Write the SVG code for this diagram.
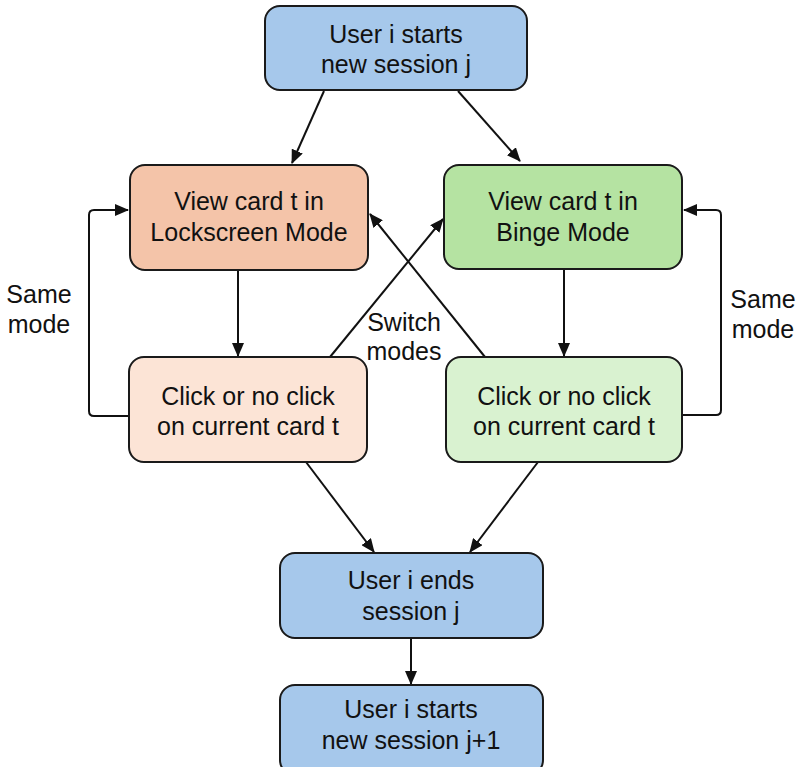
<svg xmlns="http://www.w3.org/2000/svg" width="796" height="767" viewBox="0 0 796 767">
  <defs>
    <marker id="arrow" markerUnits="userSpaceOnUse" markerWidth="14" markerHeight="12" refX="13" refY="6" orient="auto">
      <path d="M0,0 L14,6 L0,12 Z" fill="#111"/>
    </marker>
    <style>
      .box { stroke: #1a1a1a; stroke-width: 2; }
      .blue { fill: #a6c8eb; }
      .orange { fill: #f4c4a9; }
      .orange-light { fill: #fce4d6; }
      .green { fill: #b5e3a2; }
      .green-light { fill: #d9f2d0; }
      .label { font-family: "Liberation Sans", Arial, sans-serif; font-size: 25px; fill: #111; text-anchor: middle; }
      .edge { fill: none; stroke: #111; stroke-width: 2; marker-end: url(#arrow); }
    </style>
  </defs>
  <rect width="796" height="767" fill="#ffffff"/>

  <!-- connectors -->
  <g id="connectors">
    <path class="edge" d="M324,91 L292,163"/>
    <path class="edge" d="M458,91 L520,161"/>
    <path class="edge" d="M238,270 L238,356"/>
    <path class="edge" d="M564,269 L564,356"/>
    <path class="edge" d="M129,416 H94 Q89,416 89,411 V215 Q89,210 94,210 H128"/>
    <path class="edge" d="M682,415 H716 Q721,415 721,410 V215 Q721,210 716,210 H684"/>
    <path class="edge" d="M330,357 L443,219"/>
    <path class="edge" d="M485,357 L370,214"/>
    <path class="edge" d="M306,462 L374,552"/>
    <path class="edge" d="M538,462 L470,552"/>
    <path class="edge" d="M411,638 L411,684"/>
    <text class="label" x="39" y="303">Same</text>
    <text class="label" x="39" y="333">mode</text>
    <text class="label" x="763" y="308">Same</text>
    <text class="label" x="763" y="338">mode</text>
    <text class="label" x="404" y="331">Switch</text>
    <text class="label" x="404" y="360">modes</text>
  </g>

  <g id="start">
    <rect class="box blue" x="265" y="6" width="262" height="84" rx="15"/>
    <text class="label" x="396" y="43">User i starts</text>
    <text class="label" x="396" y="73">new session j</text>
  </g>

  <g id="lockscreen-view">
    <rect class="box orange" x="130" y="165" width="238" height="105" rx="15"/>
    <text class="label" x="249" y="210">View card t in</text>
    <text class="label" x="249" y="241">Lockscreen Mode</text>
  </g>

  <g id="binge-view">
    <rect class="box green" x="444" y="165" width="238" height="104" rx="15"/>
    <text class="label" x="563" y="210">View card t in</text>
    <text class="label" x="563" y="241">Binge Mode</text>
  </g>

  <g id="lockscreen-click">
    <rect class="box orange-light" x="129" y="357" width="238" height="105" rx="15"/>
    <text class="label" x="248" y="405">Click or no click</text>
    <text class="label" x="248" y="435">on current card t</text>
  </g>

  <g id="binge-click">
    <rect class="box green-light" x="446" y="357" width="236" height="105" rx="15"/>
    <text class="label" x="564" y="405">Click or no click</text>
    <text class="label" x="564" y="435">on current card t</text>
  </g>

  <g id="end">
    <rect class="box blue" x="280" y="553" width="263" height="85" rx="15"/>
    <text class="label" x="411" y="589">User i ends</text>
    <text class="label" x="411" y="620">session j</text>
  </g>

  <g id="next-start">
    <rect class="box blue" x="280" y="685" width="263" height="90" rx="15"/>
    <text class="label" x="411" y="718">User i starts</text>
    <text class="label" x="411" y="749">new session j+1</text>
  </g>
</svg>
